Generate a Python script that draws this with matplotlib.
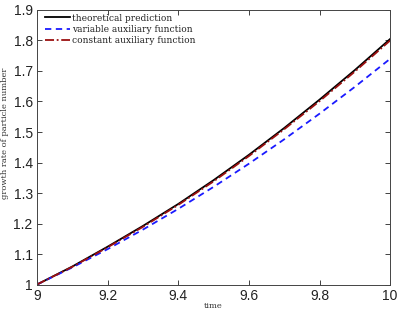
import numpy as np
import matplotlib
matplotlib.use('Agg')
import matplotlib.pyplot as plt

# values
t = [9.0, 9.1, 9.2, 9.3, 9.4, 9.5, 9.6, 9.7, 9.8, 9.9, 10.0]
theory = [1.000, 1.059, 1.124, 1.192, 1.264, 1.342, 1.425, 1.513, 1.606, 1.703, 1.805]
variable_aux = [1.000, 1.056, 1.116, 1.180, 1.248, 1.320, 1.396, 1.476, 1.560, 1.648, 1.740]
constant_aux = [1.000, 1.058, 1.122, 1.189, 1.261, 1.338, 1.421, 1.509, 1.601, 1.698, 1.800]

xticks = [9, 9.2, 9.4, 9.6, 9.8, 10]
yticks = [1, 1.1, 1.2, 1.3, 1.4, 1.5, 1.6, 1.7, 1.8, 1.9]

fig = plt.figure(figsize=(4.01, 3.11), dpi=100)
ax = fig.add_axes([0.092, 0.085, 0.881, 0.883])

ax.plot(t, theory, color='black', lw=1.3, label='theoretical prediction')
ax.plot(t, variable_aux, color='#1a1aff', lw=1.3, ls=(0, (3.5, 2.5)), label='variable auxiliary function')
ax.plot(t, constant_aux, color='#9b1010', lw=1.3, ls=(0, (5, 1.5, 1, 1.5)), label='constant auxiliary function')

ax.set_xlim(9, 10)
ax.set_ylim(1, 1.9)
ax.set_xticks(xticks)
ax.set_xticklabels(['9', '9.2', '9.4', '9.6', '9.8', '10'])
ax.set_yticks(yticks)
ax.set_yticklabels(['1', '1.1', '1.2', '1.3', '1.4', '1.5', '1.6', '1.7', '1.8', '1.9'])
ax.tick_params(direction='in', top=True, right=True, length=3.5, width=0.6,
               colors='#222222', labelsize=10, pad=3)
for lab in ax.get_xticklabels() + ax.get_yticklabels():
    lab.set_family('Liberation Sans')
for s in ax.spines.values():
    s.set_linewidth(0.7)
    s.set_color('#444444')

ax.set_xlabel('time', family='DejaVu Serif', fontsize=6, color='#333333')
ax.xaxis.set_label_coords(0.5, -0.063)
ax.set_ylabel('growth rate of particle number', family='DejaVu Serif', fontsize=6, color='#333333')
ax.yaxis.set_label_coords(-0.079, 0.552)

leg = ax.legend(loc='upper left', bbox_to_anchor=(0.012, 1.0), frameon=False,
                prop={'family': 'DejaVu Serif', 'size': 6.5},
                handlelength=2.8, handletextpad=0.2, labelspacing=0.25,
                borderaxespad=0.2, borderpad=0.2)
for txt in leg.get_texts():
    txt.set_color('#222222')

fig.savefig('out.png', dpi=100)
